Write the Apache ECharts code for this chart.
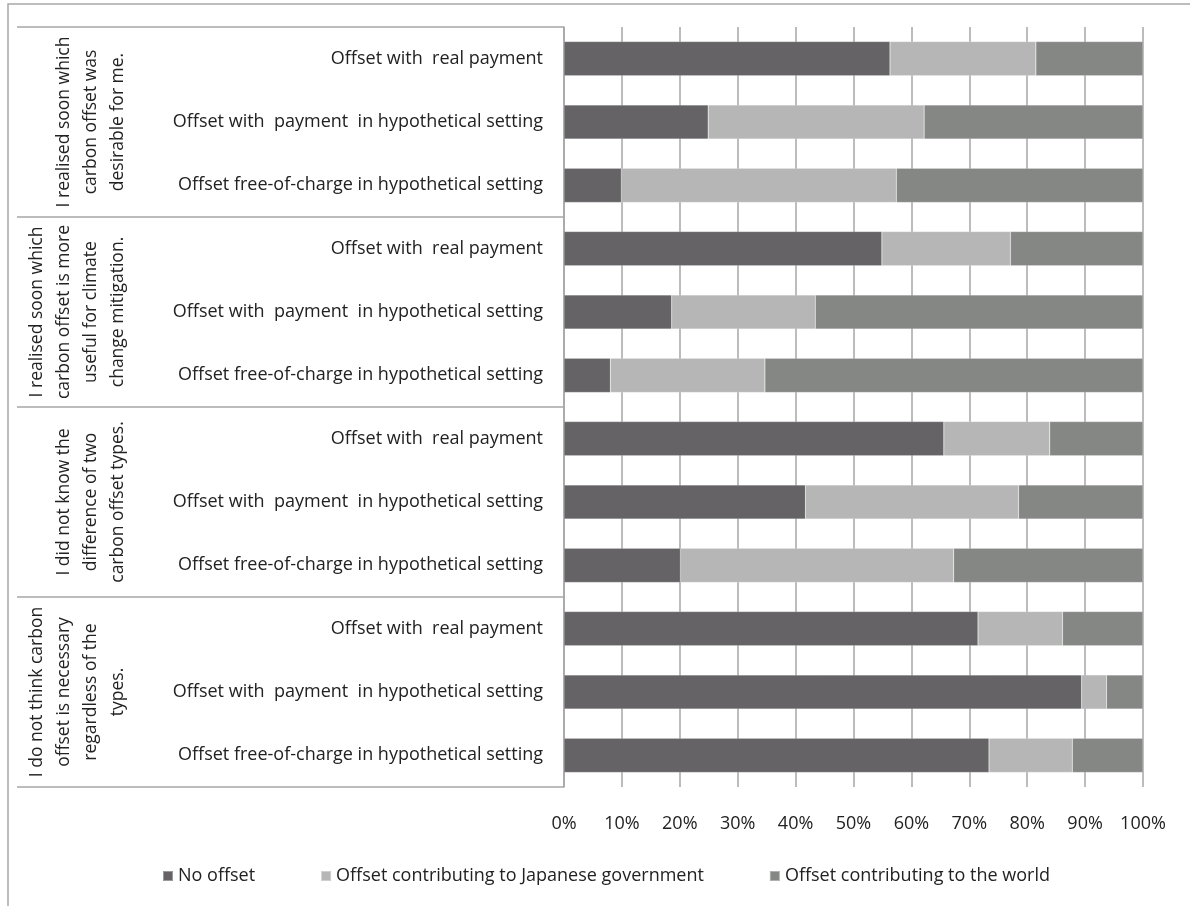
<!DOCTYPE html>
<html>
<head>
<meta charset="utf-8">
<script src="https://cdn.jsdelivr.net/npm/echarts@6/dist/echarts.min.js"></script>
<style>
  html, body { margin: 0; padding: 0; background: #fff; }
  #main { width: 1190px; height: 906px; }
</style>
</head>
<body>
<div id="main"></div>
<script>
// sub-categories (12 bars, top to bottom)
const rowLabels = [
  'Offset with  real payment',
  'Offset with  payment  in hypothetical setting',
  'Offset free-of-charge in hypothetical setting',
  'Offset with  real payment',
  'Offset with  payment  in hypothetical setting',
  'Offset free-of-charge in hypothetical setting',
  'Offset with  real payment',
  'Offset with  payment  in hypothetical setting',
  'Offset free-of-charge in hypothetical setting',
  'Offset with  real payment',
  'Offset with  payment  in hypothetical setting',
  'Offset free-of-charge in hypothetical setting'
];
// group labels (4 groups of 3 bars)
const groupLabels = [
  'I realised soon which\ncarbon offset was\ndesirable for me.',
  'I realised soon which\ncarbon offset is more\nuseful for climate\nchange mitigation.',
  'I did not know the\ndifference of two\ncarbon offset types.',
  'I do not think carbon\noffset is necessary\nregardless of the\ntypes.'
];
const seriesNames = [
  'No offset',
  'Offset contributing to Japanese government',
  'Offset contributing to the world'
];
const noOffset = [56.3, 24.9, 9.9, 54.9, 18.6, 8.0, 65.6, 41.7, 20.1, 71.5, 89.4, 73.4];
const japanGov = [25.2, 37.3, 47.5, 22.2, 24.8, 26.7, 18.3, 36.8, 47.2, 14.6, 4.3, 14.4];
const world    = [18.5, 37.8, 42.6, 22.9, 56.6, 65.3, 16.1, 21.5, 32.7, 13.9, 6.3, 12.2];
const colors = ['#656366', '#b7b6b7', '#858785'];

const font = '"Open Sans", sans-serif';
const chart = echarts.init(document.getElementById('main'), null, { renderer: 'canvas' });

const values = [noOffset, japanGov, world];
const option = {
  animation: false,
  backgroundColor: '#fff',
  textStyle: { fontFamily: font },
  graphic: [{
    type: 'rect',
    shape: { x: 8, y: 4, width: 1200, height: 920 },
    style: { fill: 'none', stroke: '#a8a8a8', lineWidth: 1.5 },
    silent: true
  }],
  grid: { left: 564, right: 47, top: 27, bottom: 119, containLabel: false },
  legend: {
    bottom: 16,
    left: 157,
    itemWidth: 10,
    itemHeight: 10,
    itemGap: 65,
    icon: 'rect',
    textStyle: { fontSize: 18, color: '#222', fontFamily: font },
    data: seriesNames
  },
  xAxis: {
    type: 'value',
    min: 0,
    max: 100,
    interval: 10,
    axisLine: { show: false },
    axisTick: { show: false },
    splitLine: { show: true, lineStyle: { color: '#a6a6a6', width: 1.5 } },
    axisLabel: {
      formatter: '{value}%',
      fontSize: 18,
      color: '#222',
      margin: 28,
      fontFamily: font
    }
  },
  yAxis: [{
    type: 'category',
    inverse: true,
    data: rowLabels,
    axisLine: { show: true, lineStyle: { color: '#a6a6a6', width: 1.5 } },
    axisTick: { show: false },
    axisLabel: { interval: 0, fontSize: 18, color: '#222', margin: 21, fontFamily: font }
  }, {
    type: 'category',
    inverse: true,
    position: 'left',
    data: groupLabels,
    axisLine: { show: false },
    axisTick: {
      show: true,
      interval: 0,
      length: 547,
      lineStyle: { color: '#a6a6a6', width: 1.5 }
    },
    axisLabel: {
      interval: 0,
      rotate: 90,
      align: 'center',
      verticalAlign: 'bottom',
      margin: 432,
      fontSize: 17.5,
      lineHeight: 27,
      color: '#222',
      fontFamily: font
    }
  }],
  series: seriesNames.map((name, i) => ({
    name: name,
    type: 'bar',
    stack: 'total',
    yAxisIndex: 0,
    barCategoryGap: '46%',
    itemStyle: { color: colors[i], borderColor: 'rgba(255,255,255,0.35)', borderWidth: 0.5 },
    data: values[i]
  }))
};

chart.setOption(option);
</script>
</body>
</html>
